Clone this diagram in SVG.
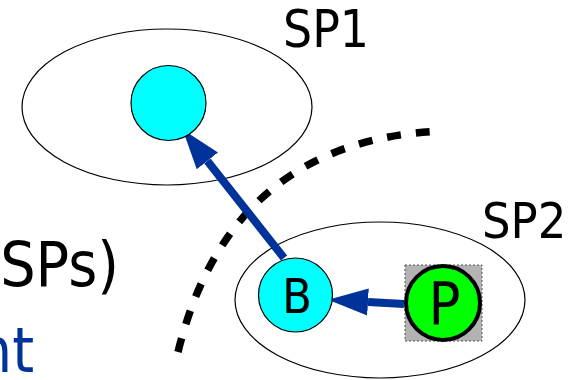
<svg xmlns="http://www.w3.org/2000/svg" width="575" height="380" viewBox="0 0 575 380">
<style>
.t{font-family:"DejaVu Sans Condensed","DejaVu Sans",sans-serif;fill:#000}
.sp{fill:none;stroke:#000;stroke-width:1.2}
.cy{fill:#00ffff;stroke:#000;stroke-width:1.2}
.ar{stroke:#003399;stroke-width:8;fill:none}
</style>
<defs>
<marker id="ah" markerUnits="userSpaceOnUse" markerWidth="40" markerHeight="30" viewBox="0 0 34 23" refX="0" refY="11.5" orient="auto">
<path d="M0,0 L34,11.5 L0,23 z" fill="#003399"/>
</marker>
</defs>
<rect width="575" height="380" fill="#fff"/>
<g id="labels">
<text class="t" x="119" y="286" font-size="62" text-anchor="end">SPs)</text>
<text class="t" x="34" y="372" font-size="62" text-anchor="end" style="fill:#003399">nt</text>
</g>
<g id="sp1">
<ellipse class="sp" cx="167" cy="107" rx="145" ry="78"/>
<text class="t" x="283" y="47" font-size="51">SP1</text>
</g>
<g id="sp2">
<ellipse class="sp" cx="380" cy="300" rx="145" ry="78"/>
<text class="t" x="482" y="238" font-size="50">SP2</text>
</g>
<g id="boundary">
<path d="M178,352 Q230,140 442,131" fill="none" stroke="#000" stroke-width="7.5" stroke-dasharray="14 15"/>
</g>
<g id="connectors">
<line class="ar" x1="284" y1="258" x2="207.4" y2="160.9" marker-end="url(#ah)"/>
<line class="ar" x1="404" y1="304" x2="368" y2="302" marker-end="url(#ah)"/>
</g>
<g id="node-sp1">
<circle class="cy" cx="168.5" cy="103" r="37.5"/>
</g>
<g id="node-b">
<circle class="cy" cx="295.5" cy="295" r="37"/>
<text class="t" x="297" y="313" font-size="48" text-anchor="middle">B</text>
</g>
<g id="node-p">
<rect x="405" y="265" width="77" height="76" fill="#b3b3b3" stroke="#555" stroke-width="1" stroke-dasharray="2 2"/>
<circle cx="443" cy="303" r="37" fill="#00ff00" stroke="#000" stroke-width="4"/>
<text class="t" x="444.5" y="324" font-size="59" text-anchor="middle">P</text>
</g>
</svg>
